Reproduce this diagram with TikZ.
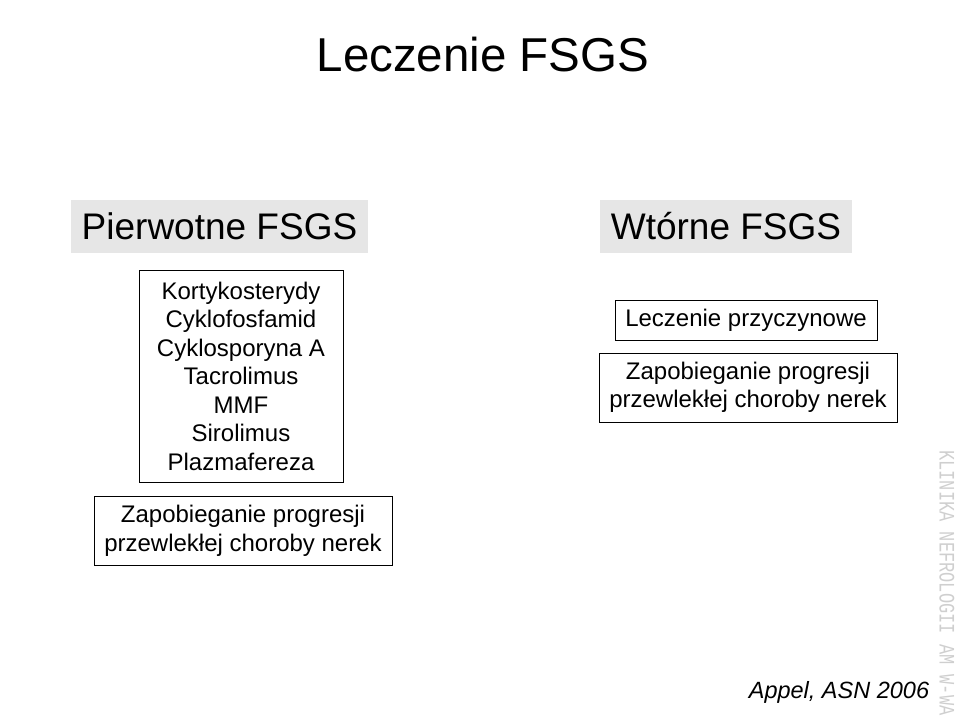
\documentclass[tikz,border=0pt]{standalone}
\usepackage{fontspec}
\setmainfont{Liberation Sans}
\newfontfamily\wmfont{Liberation Mono}
\usetikzlibrary{positioning}
\definecolor{hdrgray}{HTML}{E6E6E6}
\definecolor{wmgray}{HTML}{CFCFCF}
\tikzset{
  hdr/.style={fill=hdrgray, inner sep=0pt, minimum height=53pt, font=\fontsize{37}{44}\selectfont},
  blk/.style={draw, line width=1pt, inner sep=0pt, align=center, font=\fontsize{24}{28.5}\selectfont},
}

\begin{document}
\begin{tikzpicture}[x=1pt, y=-1pt]
  \useasboundingbox (0,0) rectangle (960,722);
  \node[font=\fontsize{47.5}{56}\selectfont, anchor=base] (title) at (483,72) {Leczenie FSGS};
  \node[hdr, minimum width=297pt] (prim) at (219.5,226.5) {Pierwotne FSGS};
  \node[hdr, minimum width=252pt] (sec) at (726,226.5) {Wtórne FSGS};
  \node[blk, minimum width=204pt, minimum height=212pt] (drugs) at (241,376)
    {Kortykosterydy\\Cyklofosfamid\\Cyklosporyna A\\Tacrolimus\\MMF\\Sirolimus\\Plazmafereza};
  \node[blk, minimum width=298pt, minimum height=69pt] (progL) at (243,531)
    {Zapobieganie progresji\\przewlekłej choroby nerek};
  \node[blk, minimum width=262pt, minimum height=40pt] (cause) at (746,320) {Leczenie przyczynowe};
  \node[blk, minimum width=298pt, minimum height=69pt] (progR) at (748,387.5)
    {Zapobieganie progresji\\przewlekłej choroby nerek};
  \node[font=\fontsize{23.5}{28}\selectfont\itshape, anchor=base] (ref) at (839,698) {Appel, ASN 2006};
  \node[font=\wmfont\fontsize{17}{20}\selectfont, text=wmgray, rotate=-90, yscale=1.3] (wm) at (947,583) {KLINIKA NEFROLOGII AM W-WA};
\end{tikzpicture}
\end{document}
